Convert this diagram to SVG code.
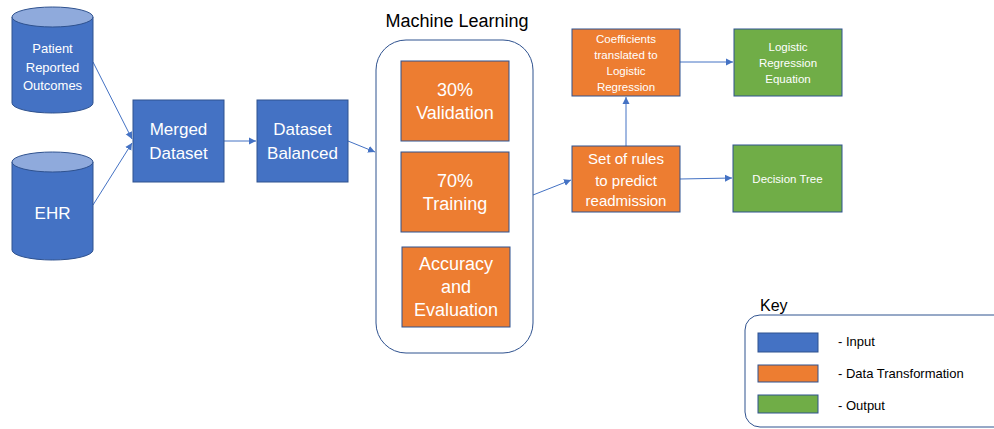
<svg xmlns="http://www.w3.org/2000/svg" width="994" height="429" viewBox="0 0 994 429">
<style>
text{font-family:"Liberation Sans",Arial,sans-serif;text-anchor:middle;dominant-baseline:central}
.w{fill:#fff}
.blue{fill:#4472C4;stroke:#2F528F;stroke-width:1}
.or{fill:#ED7D31;stroke:#2F528F;stroke-width:1}
.gr{fill:#70AD47;stroke:#2F528F;stroke-width:1}
.top{fill:#8FAADC;stroke:#2F528F;stroke-width:1}
.c{stroke:#4472C4;stroke-width:1;fill:none;marker-end:url(#ah)}
.k{fill:#000;text-anchor:start}
</style>
<defs>
<marker id="ah" markerWidth="8" markerHeight="8" refX="7" refY="4" orient="auto" markerUnits="userSpaceOnUse">
<path d="M0,0.5 L7,4 L0,7.5 Z" fill="#4472C4"/>
</marker>
</defs>
<rect width="994" height="429" fill="#fff"/>
<g id="connectors">
<line class="c" x1="93" y1="62" x2="132" y2="139"/>
<line class="c" x1="93" y1="205" x2="132" y2="143"/>
<line class="c" x1="224" y1="141" x2="256" y2="141"/>
<line class="c" x1="348" y1="141" x2="375" y2="152"/>
<line class="c" x1="533" y1="195" x2="571" y2="180"/>
<line class="c" x1="626" y1="146" x2="626" y2="97"/>
<line class="c" x1="680" y1="62" x2="733" y2="62"/>
<line class="c" x1="680" y1="179" x2="732" y2="178"/>
</g>
<g id="pro">
<path class="blue" d="M12,17 L12,103 A40.5,10 0 0 0 93,103 L93,17"/>
<ellipse class="top" cx="52.5" cy="17" rx="40.5" ry="10"/>
<text class="w" x="52.5" y="48" font-size="13">Patient</text>
<text class="w" x="52.5" y="67" font-size="13">Reported</text>
<text class="w" x="52.5" y="85" font-size="13">Outcomes</text>
</g>
<g id="ehr">
<path class="blue" d="M12,162 L12,250 A40.5,10 0 0 0 93,250 L93,162"/>
<ellipse class="top" cx="52.5" cy="162" rx="40.5" ry="10"/>
<text class="w" x="52.5" y="213" font-size="17">EHR</text>
</g>
<g id="merged">
<rect class="blue" x="133" y="100" width="91" height="82"/>
<text class="w" x="178.5" y="129" font-size="17">Merged</text>
<text class="w" x="178.5" y="153" font-size="17">Dataset</text>
</g>
<g id="balanced">
<rect class="blue" x="257" y="100" width="91" height="82"/>
<text class="w" x="302.5" y="129" font-size="17">Dataset</text>
<text class="w" x="302.5" y="153" font-size="17">Balanced</text>
</g>
<g id="ml">
<text x="457" y="21" font-size="18" fill="#000">Machine Learning</text>
<rect x="376" y="40" width="157" height="313" rx="30" fill="none" stroke="#2F528F" stroke-width="1"/>
</g>
<g id="validation">
<rect class="or" x="401" y="61" width="108" height="80"/>
<text class="w" x="455" y="90" font-size="18">30%</text>
<text class="w" x="455" y="113" font-size="18">Validation</text>
</g>
<g id="training">
<rect class="or" x="401" y="152" width="108" height="80"/>
<text class="w" x="455" y="181" font-size="18">70%</text>
<text class="w" x="455" y="204" font-size="18">Training</text>
</g>
<g id="accuracy">
<rect class="or" x="402" y="247" width="108" height="80"/>
<text class="w" x="456" y="264" font-size="18">Accuracy</text>
<text class="w" x="456" y="287" font-size="18">and</text>
<text class="w" x="456" y="310" font-size="18">Evaluation</text>
</g>
<g id="coefficients">
<rect class="or" x="572" y="29" width="108" height="67"/>
<text class="w" x="626" y="39" font-size="11.5">Coefficients</text>
<text class="w" x="626" y="55" font-size="11.5">translated to</text>
<text class="w" x="626" y="71" font-size="11.5">Logistic</text>
<text class="w" x="626" y="87" font-size="11.5">Regression</text>
</g>
<g id="rules">
<rect class="or" x="572" y="146" width="108" height="66"/>
<text class="w" x="626" y="158" font-size="15">Set of rules</text>
<text class="w" x="626" y="180" font-size="15">to predict</text>
<text class="w" x="626" y="200" font-size="15">readmission</text>
</g>
<g id="lre">
<rect class="gr" x="734" y="29" width="108" height="67"/>
<text class="w" x="788" y="47" font-size="11.5">Logistic</text>
<text class="w" x="788" y="63" font-size="11.5">Regression</text>
<text class="w" x="788" y="79" font-size="11.5">Equation</text>
</g>
<g id="tree">
<rect class="gr" x="733" y="145" width="109" height="67"/>
<text class="w" x="787.5" y="179" font-size="11.5">Decision Tree</text>
</g>
<g id="key">
<text class="k" x="760" y="305" font-size="16">Key</text>
<rect x="745" y="315" width="270" height="112" rx="15" fill="none" stroke="#2F528F" stroke-width="1"/>
<rect class="blue" x="758" y="333" width="60" height="19"/>
<rect class="or" x="758" y="365" width="60" height="17"/>
<rect class="gr" x="758" y="395" width="60" height="18"/>
<text class="k" x="838" y="341" font-size="13">- Input</text>
<text class="k" x="838" y="373" font-size="13">- Data Transformation</text>
<text class="k" x="838" y="405" font-size="13">- Output</text>
</g>
</svg>
